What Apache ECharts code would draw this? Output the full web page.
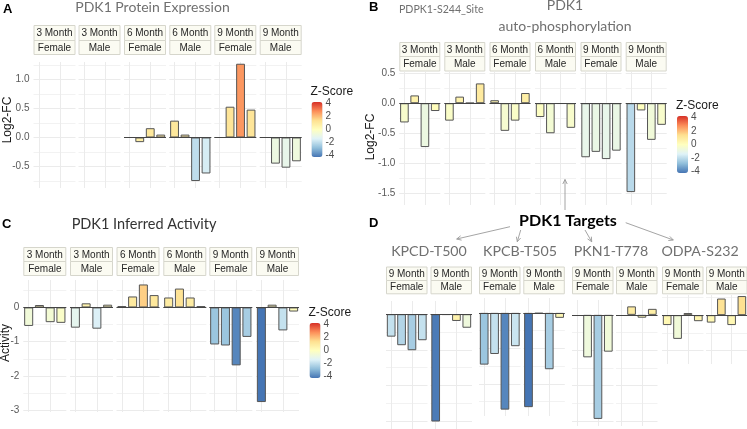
<!DOCTYPE html>
<html><head><meta charset="utf-8">
<script src="https://cdn.jsdelivr.net/npm/echarts@6/dist/echarts.min.js"></script>
<style>html,body{margin:0;padding:0;background:#fff}#c{width:747px;height:429px}</style>
</head><body><div id="c"></div><script>
// ---------------- DATA ----------------
const facetAges = ['3 Month','3 Month','6 Month','6 Month','9 Month','9 Month'];
const facetSexes = ['Female','Male','Female','Male','Female','Male'];
const replicates = ['R1','R2','R3','R4'];
const zTickLabels = [4, 2, 0, -2, -4];
const zColors = ['#4575b4','#91bfdb','#e0f3f8','#ffffbf','#fee090','#fc8d59','#d73027'];

// Panel A: PDK1 protein expression (Log2-FC) and Z-scores
const proteinFC = [
  [null,null,null,null],
  [null,null,null,null],
  [null,-0.08,0.16,0.05],
  [0.29,0.05,-0.75,-0.62],
  [null,0.53,1.27,0.48],
  [null,-0.45,-0.52,-0.41]];
const proteinZ = [
  [null,null,null,null],
  [null,null,null,null],
  [null,0.7,1.0,0.8],
  [1.0,0.8,-1.9,-1.5],
  [null,1.1,2.5,1.1],
  [null,-0.8,-1.0,-0.7]];

// Panel B: PDPK1-S244 site (Log2-FC) and Z-scores
const siteFC = [
  [-0.32,0.13,-0.73,-0.13],
  [-0.29,0.11,0.005,0.33],
  [0.05,-0.46,-0.29,0.17],
  [-0.23,-0.50,-0.01,-0.41],
  [-0.90,-0.81,-0.93,-0.79],
  [-1.48,-0.12,-0.61,-0.36]];
const siteZ = [
  [-0.3,0.5,-0.8,0.1],
  [-0.2,0.5,0.3,0.9],
  [0.4,-0.4,-0.2,0.7],
  [-0.1,-0.5,0.2,-0.3],
  [-1.0,-0.9,-1.0,-0.9],
  [-2.0,0.0,-0.6,-0.3]];

// Panel C: inferred activity and Z-scores
const activity = [
  [-0.54,0.07,-0.43,-0.45],
  [-0.59,0.12,-0.62,0.08],
  [0.04,0.32,0.67,0.36],
  [0.29,0.55,0.29,0.04],
  [-1.08,-1.11,-1.69,-0.86],
  [-2.76,0.08,-0.67,-0.12]];
const activityZ = [
  [-0.6,0.4,-0.5,-0.2],
  [-1.1,0.5,-1.4,0.4],
  [0.3,0.9,1.6,1.0],
  [0.8,1.2,0.8,0.3],
  [-2.5,-2.5,-3.7,-2.3],
  [-4.0,0.4,-1.8,0.1]];

// Panel D: PDK1 targets (9 month only)
const targetNames = ['KPCD-T500','KPCB-T505','PKN1-T778','ODPA-S232'];
const targetAges = ['9 Month','9 Month'];
const targetSexes = ['Female','Male'];
const kpcdFC = [[-0.63,-0.87,-1.01,-0.73],[-3.01,-0.02,-0.19,-0.38]];
const kpcdZ  = [[-1.8,-2.1,-2.3,-1.8],[-3.9,0.0,0.5,-0.7]];
const kpcbFC = [[-1.46,-1.16,-2.73,-0.94],[-2.66,-0.02,-1.59,-0.14]];
const kpcbZ  = [[-2.5,-1.8,-3.7,-1.7],[-4.0,0.0,-2.3,0.3]];
const pkn1FC = [[null,-1.20,-2.94,-1.04],[null,0.24,-0.08,0.17]];
const pkn1Z  = [[null,-0.7,-2.3,-0.6],[null,0.8,0.2,0.7]];
const odpaFC = [[-0.28,-0.67,0.06,-0.17],[-0.21,0.47,-0.28,0.54]];
const odpaZ  = [[0.3,-0.6,0.8,0.4],[0.3,1.2,0.3,1.3]];

// ---------------- LAYOUT / STYLE ----------------
const SANS = '"Liberation Sans", Arial, sans-serif';
const TITLE = 'Lato, "Open Sans", sans-serif';
const grids = [], xAxes = [], yAxes = [], series = [], visualMaps = [], gfx = [];

function txt(t, x, y, size, color, opts) {
  opts = opts || {};
  gfx.push({
    type: 'text', x: x, y: y, rotation: opts.rot || 0, silent: true, z: 100,
    style: {
      text: t, fill: color,
      font: (opts.bold ? 'bold ' : '') + size + 'px ' + (opts.family || SANS),
      textAlign: opts.align || 'center', textVerticalAlign: 'middle',
      align: opts.align || 'center', verticalAlign: 'middle'
    }
  });
}
function rect(x, y, w, h, fill, stroke) {
  gfx.push({type: 'rect', silent: true, z: 50, shape: {x: x, y: y, width: w, height: h},
    style: {fill: fill, stroke: stroke, lineWidth: 1}});
}
function arrow(x1, y1, x2, y2) {
  gfx.push({type: 'line', silent: true, z: 60, shape: {x1: x1, y1: y1, x2: x2, y2: y2},
    style: {stroke: '#9a9a9a', lineWidth: 0.9}});
  const a = Math.atan2(y2 - y1, x2 - x1), L = 4.5, W = 2.2;
  const bx = x2 - L * Math.cos(a), by = y2 - L * Math.sin(a);
  gfx.push({type: 'polyline', silent: true, z: 60, shape: {points: [
    [bx - W * Math.sin(a), by + W * Math.cos(a)], [x2, y2], [bx + W * Math.sin(a), by - W * Math.cos(a)]]},
    style: {stroke: '#9a9a9a', lineWidth: 0.9, fill: null}});
}

function addPanel(cfg) {
  const sIdx = [];
  cfg.fc.forEach(function (vals, i) {
    const gi = grids.length;
    const left = cfg.lefts[i], width = cfg.width;
    grids.push({left: left, width: width, top: cfg.top, height: cfg.bottom - cfg.top});
    xAxes.push({
      gridIndex: gi, type: 'category', data: replicates, boundaryGap: true,
      axisLine: {show: false}, axisTick: {show: false}, axisLabel: {show: false},
      splitLine: {show: true, alignWithLabel: true, lineStyle: {color: '#ebebeb', width: 1}}
    });
    yAxes.push({
      gridIndex: gi, type: 'value', min: cfg.min, max: cfg.max, splitNumber: cfg.splitNumber,
      axisLine: {show: false}, axisTick: {show: false},
      axisLabel: {show: cfg.showLabels && i === 0, margin: 4, color: '#5a5a5a', fontSize: 10,
        fontFamily: SANS, showMinLabel: false, showMaxLabel: false,
        formatter: cfg.fmt},
      splitLine: {show: true, showMinLine: false, showMaxLine: false, lineStyle: {color: '#ebebeb', width: 1}},
      minorTick: {show: false, splitNumber: 2},
      minorSplitLine: {show: true, lineStyle: {color: '#f2f2f2', width: 1}}
    });
    const data = [];
    vals.forEach(function (v, j) { if (v !== null) data.push([replicates[j], v, cfg.z[i][j]]); });
    const s = {
      type: 'bar', xAxisIndex: gi, yAxisIndex: gi, data: data, barWidth: '84%',
      encode: {x: 0, y: 1}, silent: true, z: 3,
      itemStyle: {borderColor: '#555', borderWidth: 1}
    };
    if (data.length) {
      s.markLine = {silent: true, symbol: ['none', 'none'], label: {show: false}, animation: false,
        lineStyle: {color: '#444', width: 1, type: 'solid'}, data: [{yAxis: 0}]};
    }
    sIdx.push(series.length);
    series.push(s);
    // facet strips
    const st = cfg.strip;
    rect(left + 0.5, st[0] + 0.5, width - 1, st[1] - st[0], '#fbfbf2', '#d6d6cc');
    rect(left + 0.5, st[1] + 0.5, width - 1, st[2] - st[1], '#fbfbf2', '#d6d6cc');
    txt(cfg.ages[i], left + width / 2, (st[0] + st[1]) / 2 + 1, 10, '#262626');
    txt(cfg.sexes[i], left + width / 2, (st[1] + st[2]) / 2 + 1, 10, '#262626');
  });
  const lg = cfg.legend;
  visualMaps.push({
    type: 'continuous', min: -4, max: 4, dimension: 2, seriesIndex: sIdx,
    inRange: {color: zColors}, calculable: false, show: !!lg, text: null,
    itemWidth: lg ? lg.w : 10, itemHeight: lg ? lg.h : 50,
    left: lg ? lg.x : 0, top: lg ? lg.y : 0, padding: 0, hoverLink: false
  });
  if (lg) {
    txt('Z-Score', lg.x - 1, lg.y - 10, 12, '#1a1a1a', {align: 'left'});
    zTickLabels.forEach(function (v) {
      txt(String(v), lg.x + lg.w + 3, lg.y + 1.3 + (4 - v) / 8 * (lg.h - 2.6), 10, '#4d4d4d', {align: 'left'});
    });
  }
}

const fmt1 = function (v) { return v.toFixed(1); };
const fmt0 = function (v) { return String(Math.round(v)); };

// Panel A
addPanel({fc: proteinFC, z: proteinZ, ages: facetAges, sexes: facetSexes,
  lefts: [33.5, 78.5, 124, 169.3, 214.3, 259.7], width: 42,
  top: 62, bottom: 188, min: -0.87, max: 1.3, splitNumber: 5, showLabels: true, fmt: fmt1,
  strip: [25, 40, 54], legend: {x: 311.5, y: 102, w: 11, h: 55}});
// Panel B
addPanel({fc: siteFC, z: siteZ, ages: facetAges, sexes: facetSexes,
  lefts: [399.3, 444.3, 489.5, 535, 580.5, 625.7], width: 41,
  top: 72, bottom: 205, min: -1.695, max: 0.52, splitNumber: 5, showLabels: true, fmt: fmt1,
  strip: [42, 56, 70.5], legend: {x: 677, y: 116, w: 11, h: 57}});
// Panel C
addPanel({fc: activity, z: activityZ, ages: facetAges, sexes: facetSexes,
  lefts: [23.3, 70, 116.5, 163.3, 209.3, 256], width: 43,
  top: 280, bottom: 412, min: -3.05, max: 0.8, splitNumber: 5, showLabels: true, fmt: fmt0,
  strip: [247, 261, 275], legend: {x: 309.5, y: 323, w: 11, h: 55}});
// Panel D
const dPanels = [
  {fc: kpcdFC, z: kpcdZ, lefts: [386, 430.5], top: 301, bottom: 429, min: -3.22, max: 0.37},
  {fc: kpcbFC, z: kpcbZ, lefts: [479, 523.3], top: 298, bottom: 416, min: -2.91, max: 0.42},
  {fc: pkn1FC, z: pkn1Z, lefts: [572, 616], top: 300, bottom: 426, min: -3.14, max: 0.42},
  {fc: odpaFC, z: odpaZ, lefts: [662, 706], top: 295, bottom: 364, min: -1.38, max: 0.57}
];
dPanels.forEach(function (p, k) {
  addPanel({fc: p.fc, z: p.z, ages: targetAges, sexes: targetSexes, lefts: p.lefts, width: 41.5,
    top: p.top, bottom: p.bottom, min: p.min, max: p.max, splitNumber: k === 3 ? 2 : 4,
    showLabels: false, fmt: fmt1, strip: [266.5, 280, 293.3], legend: null});
});

// Titles and annotations
txt('A', 3, 9.5, 13, '#000', {align: 'left', bold: true});
txt('PDK1 Protein Expression', 152.5, 7.5, 14, '#707070', {family: TITLE});
txt('Log2-FC', 7.5, 120, 12, '#1a1a1a', {rot: Math.PI / 2});

txt('B', 369, 7.5, 13, '#000', {align: 'left', bold: true});
txt('PDPK1-S244_Site', 399, 9.5, 10.6, '#707070', {align: 'left', family: TITLE});
txt('PDK1', 565, 5, 14, '#707070', {family: TITLE});
txt('auto-phosphorylation', 565, 26, 14, '#707070', {family: TITLE});
txt('Log2-FC', 371, 137, 12, '#1a1a1a', {rot: Math.PI / 2});

txt('C', 2, 224, 13, '#000', {align: 'left', bold: true});
txt('PDK1 Inferred Activity', 144, 224, 14.5, '#333', {family: TITLE});
txt('Activity', 6, 343, 12, '#1a1a1a', {rot: Math.PI / 2});

txt('D', 369, 223, 13, '#000', {align: 'left', bold: true});
txt('PDK1 Targets', 568, 221, 16, '#000', {bold: true, family: TITLE});
const subCenters = [429, 520, 611, 700];
targetNames.forEach(function (n, k) { txt(n, subCenters[k], 251.5, 14.2, '#707070', {family: TITLE}); });
arrow(565, 210, 565, 179.5);
arrow(510, 226.7, 456.7, 239);
arrow(520.7, 230, 517.3, 241.7);
arrow(585, 230, 591.7, 241.7);
arrow(625.7, 222.7, 673.3, 240);

const chart = echarts.init(document.getElementById('c'), null, {renderer: 'canvas'});
chart.setOption({
  animation: false,
  backgroundColor: '#ffffff',
  grid: grids, xAxis: xAxes, yAxis: yAxes, series: series,
  visualMap: visualMaps,
  graphic: {elements: gfx}
});
</script></body></html>
